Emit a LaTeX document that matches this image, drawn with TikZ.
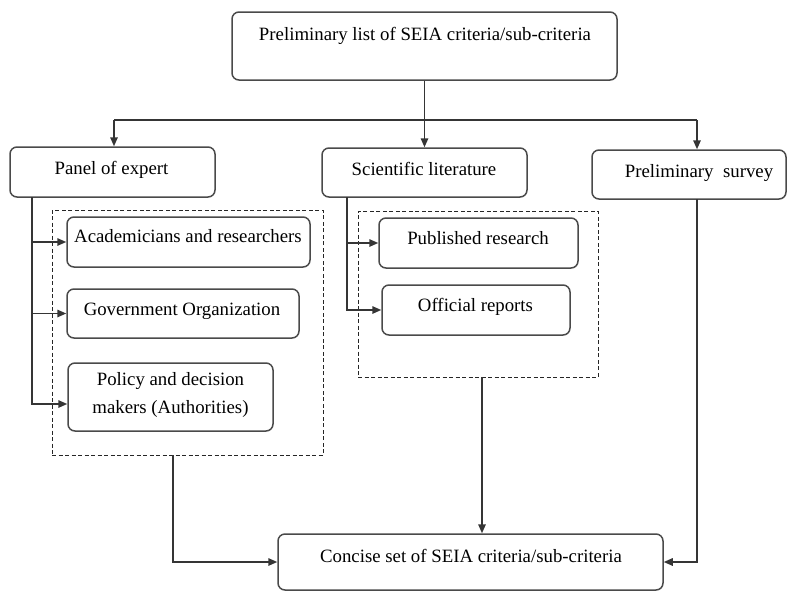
\documentclass[tikz,border=0pt]{standalone}
\usepackage{fontspec}
\setmainfont{Liberation Serif}
\usetikzlibrary{arrows.meta}
\definecolor{boxgray}{HTML}{4A4A4A}
\definecolor{linegray}{HTML}{353535}
\begin{document}
\begin{tikzpicture}[x=1pt,y=-1pt,
  box/.style={draw=boxgray, line width=1.5pt, rounded corners=7pt, inner sep=0pt},
  grp/.style={draw=black!85, line width=1pt, dash pattern=on 4pt off 2.5pt, inner sep=0pt},
  lbl/.style={anchor=base, font=\fontsize{18.8}{28}\selectfont, inner sep=0pt, text=black, align=center},
  conn/.style={draw=linegray, line width=1.5pt},
  arr/.style={conn, -{Triangle[length=9pt,width=7.5pt]}}]
\useasboundingbox (0,0) rectangle (789,592);
% boxes
\node[box, minimum width=385pt, minimum height=68pt] (top) at (424.5,46) {};
\node[box, minimum width=205pt, minimum height=50pt] (panel) at (112.5,172) {};
\node[box, minimum width=205pt, minimum height=49pt] (sci) at (424.5,172.5) {};
\node[box, minimum width=194pt, minimum height=49pt] (survey) at (689,174.5) {};
\node[grp, minimum width=271pt, minimum height=245pt] (dashA) at (187.5,332.5) {};
\node[grp, minimum width=240pt, minimum height=166pt] (dashB) at (478,294) {};
\node[box, minimum width=243pt, minimum height=50pt] (ac) at (188.5,242) {};
\node[box, minimum width=232pt, minimum height=49pt] (gov) at (183,313.5) {};
\node[box, minimum width=205pt, minimum height=68pt] (pol) at (170.5,397) {};
\node[box, minimum width=199pt, minimum height=50pt] (pub) at (478.5,243) {};
\node[box, minimum width=188pt, minimum height=50pt] (off) at (476,310) {};
\node[box, minimum width=385pt, minimum height=56pt] (conc) at (470.5,562) {};
% texts
\node[lbl] (topT) at (425,40) {Preliminary list of SEIA criteria/sub-criteria};
\node[lbl] (panelT) at (111.5,174) {Panel of expert};
\node[lbl] (sciT) at (424,175) {Scientific literature};
\node[lbl] (surveyT) at (699,177) {Preliminary\ \ survey};
\node[lbl] (acT) at (188,242) {Academicians and researchers};
\node[lbl] (govT) at (182,315) {Government Organization};
\node[lbl, anchor=north] (polT) at (170.5,372) {Policy and decision\\makers (Authorities)};
\node[lbl] (pubT) at (478,244) {Published research};
\node[lbl] (offT) at (475.5,311) {Official reports};
\node[lbl] (concT) at (471,562) {Concise set of SEIA criteria/sub-criteria};
% coordinates
\coordinate (busL) at (114,120);
\coordinate (busR) at (697,120);
\coordinate (pA) at (32,197);
\coordinate (sA) at (347,197);
\coordinate (dA) at (173,455);
\coordinate (dB) at (482,377);
\coordinate (sv) at (697,199);
% connectors
\draw[arr] (top.south) -- (sci.north);
\draw[conn] (busL) -- (busR);
\draw[arr] (busL) -- (busL |- panel.north);
\draw[arr] (busR) -- (busR |- survey.north);
\draw[arr] (pA) |- (ac.west);
\draw[arr] (pA) |- (gov.west);
\draw[arr] (pA) |- ([yshift=-7pt]pol.west);
\draw[arr] (sA) |- (pub.west);
\draw[arr] (sA) |- (off.west);
\draw[arr] (dA) |- (conc.west);
\draw[arr] (dB) -- (dB |- conc.north);
\draw[arr] (sv) |- (conc.east);
\end{tikzpicture}
\end{document}
